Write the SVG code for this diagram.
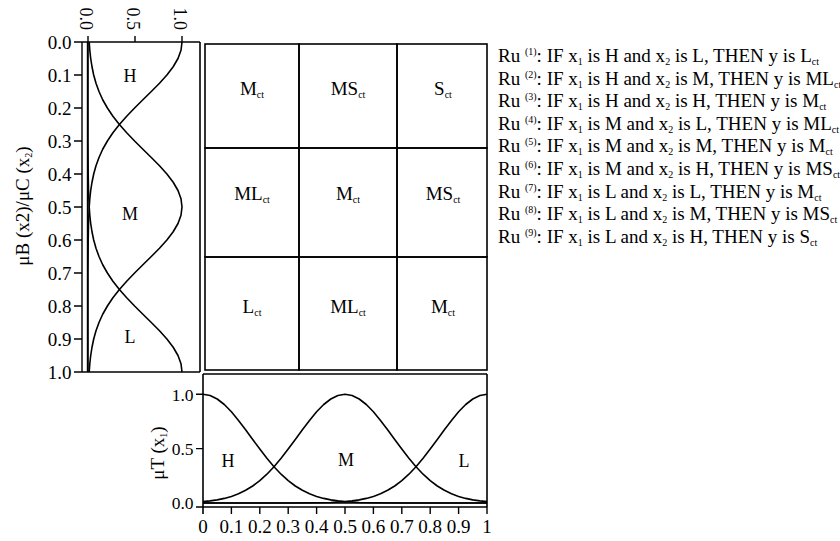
<svg xmlns="http://www.w3.org/2000/svg" width="840" height="541" viewBox="0 0 840 541">
<style>
.t{font-family:"Liberation Serif","Times New Roman",serif;fill:#000}
.tick{font-size:19px}
.tickb{font-size:19px}
.ticky{font-size:17.5px}
.tickt{font-size:18px}
.lbl{font-size:18px}
.axl{font-size:19px}
.cell{font-size:19px;text-anchor:middle}
.rule{font-size:19px}
.s{font-size:10px}
.fr{fill:none;stroke:#000;stroke-width:1.6}
.ln{fill:none;stroke:#000;stroke-width:1.4}
.cv{fill:none;stroke:#000;stroke-width:1.6;stroke-linejoin:round}
</style>
<rect width="840" height="541" fill="#fff"/>

<g id="left-panel">
  <line class="ln" x1="82" y1="42" x2="82" y2="372"/>
  <line class="ln" x1="87.5" y1="42" x2="87.5" y2="372"/>
  <line class="fr" x1="74" y1="42" x2="200" y2="42"/>
  <line class="fr" x1="74" y1="372" x2="200" y2="372"/>
  <line class="fr" x1="200" y1="42" x2="200" y2="372"/>
  <path class="ln" d="M74,75H82M74,108H82M74,141H82M74,174H82M74,207H82M74,240H82M74,273H82M74,306H82M74,339H82"/>
  <path class="ln" d="M88,36V42M135,36V42M182,36V42"/>
  <g class="t tick" text-anchor="end">
    <text x="71.5" y="49">0.0</text>
    <text x="71.5" y="82">0.1</text>
    <text x="71.5" y="115">0.2</text>
    <text x="71.5" y="148">0.3</text>
    <text x="71.5" y="181">0.4</text>
    <text x="71.5" y="214">0.5</text>
    <text x="71.5" y="247">0.6</text>
    <text x="71.5" y="280">0.7</text>
    <text x="71.5" y="313">0.8</text>
    <text x="71.5" y="346">0.9</text>
    <text x="71.5" y="379">1.0</text>
  </g>
  <g class="t tickt" text-anchor="end">
    <text transform="translate(80,30) rotate(90)">0.0</text>
    <text transform="translate(127,30) rotate(90)">0.5</text>
    <text transform="translate(174,30) rotate(90)">1.0</text>
  </g>
  <text class="t axl" text-anchor="middle" transform="translate(29,206) rotate(-90)">μB (x2)/μC (x<tspan class="s" dy="3">2</tspan><tspan dy="-3">)</tspan></text>
  <path class="cv" d="M182,42 L181.0,50.25 178.0,58.5 173.2,66.75 166.9,75 159.5,83.25 151.3,91.5 142.9,99.75 134.6,108 126.7,116.25 119.4,124.5 112.9,132.75 107.4,141 102.7,149.25 99.0,157.5 96.0,165.75 93.7,174 92.0,182.25 90.7,190.5 89.8,198.75 89.2,207 88.5,223.5 88.2,240 88,273 88,372"/>
  <path class="cv" d="M89.2,42 L89.8,50.25 90.7,58.5 92.0,66.75 93.7,75 96.0,83.25 99.0,91.5 102.7,99.75 107.4,108 112.9,116.25 119.4,124.5 126.7,132.75 134.6,141 142.9,149.25 151.3,157.5 159.5,165.75 166.9,174 173.2,182.25 178.0,190.5 181.0,198.75 182,207 181.0,215.25 178.0,223.5 173.2,231.75 166.9,240 159.5,248.25 151.3,256.5 142.9,264.75 134.6,273 126.7,281.25 119.4,289.5 112.9,297.75 107.4,306 102.7,314.25 99.0,322.5 96.0,330.75 93.7,339 92.0,347.25 90.7,355.5 89.8,363.75 89.2,372"/>
  <path class="cv" d="M88,42 L88,141 88.2,174 88.5,190.5 89.2,207 89.8,215.25 90.7,223.5 92.0,231.75 93.7,240 96.0,248.25 99.0,256.5 102.7,264.75 107.4,273 112.9,281.25 119.4,289.5 126.7,297.75 134.6,306 142.9,314.25 151.3,322.5 159.5,330.75 166.9,339 173.2,347.25 178.0,355.5 181.0,363.75 182,372"/>
  <g class="t lbl" text-anchor="middle">
    <text x="130" y="82">H</text>
    <text x="130" y="220">M</text>
    <text x="130" y="343">L</text>
  </g>
</g>

<g id="rule-grid">
  <g id="cell-1-1"><rect class="fr" x="205" y="44" width="94" height="104"/><text class="t cell" x="252" y="95">M<tspan class="s" dy="3">ct</tspan></text></g>
  <g id="cell-1-2"><rect class="fr" x="299" y="44" width="98" height="104"/><text class="t cell" x="348" y="95">MS<tspan class="s" dy="3">ct</tspan></text></g>
  <g id="cell-1-3"><rect class="fr" x="397" y="44" width="90" height="104"/><text class="t cell" x="443" y="95">S<tspan class="s" dy="3">ct</tspan></text></g>
  <g id="cell-2-1"><rect class="fr" x="205" y="148" width="94" height="109"/><text class="t cell" x="252" y="200">ML<tspan class="s" dy="3">ct</tspan></text></g>
  <g id="cell-2-2"><rect class="fr" x="299" y="148" width="98" height="109"/><text class="t cell" x="348" y="200">M<tspan class="s" dy="3">ct</tspan></text></g>
  <g id="cell-2-3"><rect class="fr" x="397" y="148" width="90" height="109"/><text class="t cell" x="443" y="200">MS<tspan class="s" dy="3">ct</tspan></text></g>
  <g id="cell-3-1"><rect class="fr" x="205" y="257" width="94" height="113"/><text class="t cell" x="252" y="313">L<tspan class="s" dy="3">ct</tspan></text></g>
  <g id="cell-3-2"><rect class="fr" x="299" y="257" width="98" height="113"/><text class="t cell" x="348" y="313">ML<tspan class="s" dy="3">ct</tspan></text></g>
  <g id="cell-3-3"><rect class="fr" x="397" y="257" width="90" height="113"/><text class="t cell" x="443" y="313">M<tspan class="s" dy="3">ct</tspan></text></g>
</g>

<g id="rules" class="t rule">
  <text x="498" y="62">Ru <tspan class="s" dy="-7">(1)</tspan><tspan dy="7">: IF x</tspan><tspan class="s" dy="3">1</tspan><tspan dy="-3"> is H and x</tspan><tspan class="s" dy="3">2</tspan><tspan dy="-3"> is L, THEN y is L</tspan><tspan class="s" dy="3">ct</tspan></text>
  <text x="498" y="84.6">Ru <tspan class="s" dy="-7">(2)</tspan><tspan dy="7">: IF x</tspan><tspan class="s" dy="3">1</tspan><tspan dy="-3"> is H and x</tspan><tspan class="s" dy="3">2</tspan><tspan dy="-3"> is M, THEN y is ML</tspan><tspan class="s" dy="3">ct</tspan></text>
  <text x="498" y="107.2">Ru <tspan class="s" dy="-7">(3)</tspan><tspan dy="7">: IF x</tspan><tspan class="s" dy="3">1</tspan><tspan dy="-3"> is H and x</tspan><tspan class="s" dy="3">2</tspan><tspan dy="-3"> is H, THEN y is M</tspan><tspan class="s" dy="3">ct</tspan></text>
  <text x="498" y="129.8">Ru <tspan class="s" dy="-7">(4)</tspan><tspan dy="7">: IF x</tspan><tspan class="s" dy="3">1</tspan><tspan dy="-3"> is M and x</tspan><tspan class="s" dy="3">2</tspan><tspan dy="-3"> is L, THEN y is ML</tspan><tspan class="s" dy="3">ct</tspan></text>
  <text x="498" y="152.4">Ru <tspan class="s" dy="-7">(5)</tspan><tspan dy="7">: IF x</tspan><tspan class="s" dy="3">1</tspan><tspan dy="-3"> is M and x</tspan><tspan class="s" dy="3">2</tspan><tspan dy="-3"> is M, THEN y is M</tspan><tspan class="s" dy="3">ct</tspan></text>
  <text x="498" y="175">Ru <tspan class="s" dy="-7">(6)</tspan><tspan dy="7">: IF x</tspan><tspan class="s" dy="3">1</tspan><tspan dy="-3"> is M and x</tspan><tspan class="s" dy="3">2</tspan><tspan dy="-3"> is H, THEN y is MS</tspan><tspan class="s" dy="3">ct</tspan></text>
  <text x="498" y="197.6">Ru <tspan class="s" dy="-7">(7)</tspan><tspan dy="7">: IF x</tspan><tspan class="s" dy="3">1</tspan><tspan dy="-3"> is L and x</tspan><tspan class="s" dy="3">2</tspan><tspan dy="-3"> is L, THEN y is M</tspan><tspan class="s" dy="3">ct</tspan></text>
  <text x="498" y="220.2">Ru <tspan class="s" dy="-7">(8)</tspan><tspan dy="7">: IF x</tspan><tspan class="s" dy="3">1</tspan><tspan dy="-3"> is L and x</tspan><tspan class="s" dy="3">2</tspan><tspan dy="-3"> is M, THEN y is MS</tspan><tspan class="s" dy="3">ct</tspan></text>
  <text x="498" y="242.8">Ru <tspan class="s" dy="-7">(9)</tspan><tspan dy="7">: IF x</tspan><tspan class="s" dy="3">1</tspan><tspan dy="-3"> is L and x</tspan><tspan class="s" dy="3">2</tspan><tspan dy="-3"> is H, THEN y is S</tspan><tspan class="s" dy="3">ct</tspan></text>
</g>

<g id="bottom-panel">
  <line class="fr" x1="203" y1="374" x2="487" y2="374"/>
  <line class="fr" x1="487" y1="374" x2="487" y2="507"/>
  <line class="fr" x1="203" y1="374" x2="203" y2="514"/>
  <line class="ln" x1="203" y1="503" x2="487" y2="503"/>
  <line class="fr" x1="196" y1="507" x2="487" y2="507"/>
  <path class="ln" d="M196,394.3H203M196,448.6H203M231.4,507V514M259.8,507V514M288.2,507V514M316.6,507V514M345,507V514M373.4,507V514M401.8,507V514M430.2,507V514M458.6,507V514M487,507V514"/>
  <g class="t ticky" text-anchor="end">
    <text x="193.5" y="400.5">1.0</text>
    <text x="193.5" y="455">0.5</text>
    <text x="193.5" y="509">0.0</text>
  </g>
  <g class="t tickb" text-anchor="middle">
    <text x="203" y="533">0</text>
    <text x="231.4" y="533">0.1</text>
    <text x="259.8" y="533">0.2</text>
    <text x="288.2" y="533">0.3</text>
    <text x="316.6" y="533">0.4</text>
    <text x="345" y="533">0.5</text>
    <text x="373.4" y="533">0.6</text>
    <text x="401.8" y="533">0.7</text>
    <text x="430.2" y="533">0.8</text>
    <text x="458.6" y="533">0.9</text>
    <text x="487" y="533">1</text>
  </g>
  <text class="t axl" text-anchor="middle" transform="translate(164,453) rotate(-90)">μT (x<tspan class="s" dy="3">1</tspan><tspan dy="-3">)</tspan></text>
  <path class="cv" d="M203,394.3 L210.1,395.5 217.2,399.0 224.3,404.5 231.4,411.8 238.5,420.4 245.6,429.7 252.7,439.5 259.8,449.1 266.9,458.3 274,466.7 281.1,474.2 288.2,480.6 295.3,486.0 302.4,490.3 309.5,493.8 316.6,496.4 323.7,498.4 330.8,499.9 337.9,500.9 345,501.6 359.2,502.5 373.4,502.8 401.8,503 487,503"/>
  <path class="cv" d="M203,501.6 L210.1,500.9 217.2,499.9 224.3,498.4 231.4,496.4 238.5,493.8 245.6,490.3 252.7,486.0 259.8,480.6 266.9,474.2 274,466.7 281.1,458.3 288.2,449.1 295.3,439.5 302.4,429.7 309.5,420.4 316.6,411.8 323.7,404.5 330.8,399.0 337.9,395.5 345,394.3 352.1,395.5 359.2,399.0 366.3,404.5 373.4,411.8 380.5,420.4 387.6,429.7 394.7,439.5 401.8,449.1 408.9,458.3 416,466.7 423.1,474.2 430.2,480.6 437.3,486.0 444.4,490.3 451.5,493.8 458.6,496.4 465.7,498.4 472.8,499.9 479.9,500.9 487,501.6"/>
  <path class="cv" d="M203,503 L288.2,503 316.6,502.8 330.8,502.5 345,501.6 352.1,500.9 359.2,499.9 366.3,498.4 373.4,496.4 380.5,493.8 387.6,490.3 394.7,486.0 401.8,480.6 408.9,474.2 416,466.7 423.1,458.3 430.2,449.1 437.3,439.5 444.4,429.7 451.5,420.4 458.6,411.8 465.7,404.5 472.8,399.0 479.9,395.5 487,394.3"/>
  <g class="t lbl" text-anchor="middle">
    <text x="228" y="467">H</text>
    <text x="346" y="466">M</text>
    <text x="464" y="467">L</text>
  </g>
</g>

<g id="connectors"></g>
</svg>
